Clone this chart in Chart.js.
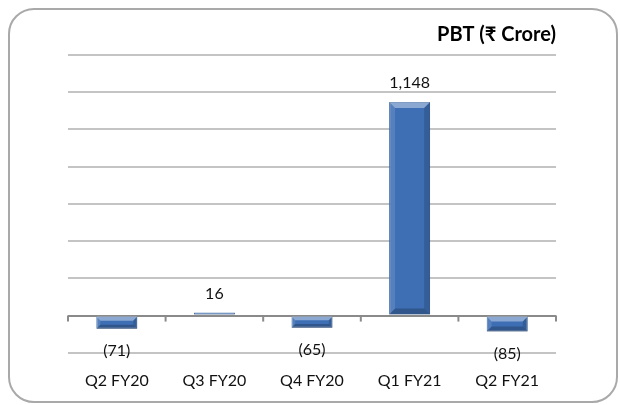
<!DOCTYPE html>
<html>
<head>
<meta charset="utf-8">
<script src="https://cdn.jsdelivr.net/npm/chart.js@4"></script>
<style>
    html, body { margin: 0; padding: 0; background: #fff; }
    #wrap { position: relative; width: 620px; height: 405px; overflow: hidden; }
    #frame {
        position: absolute; left: 8px; top: 8px; width: 610px; height: 395px;
        border: 2px solid #a9a9a9; border-radius: 26px; box-sizing: border-box;
    }
    #chart { position: absolute; left: 0; top: 0; }
</style>
</head>
<body>
<div id="wrap">
    <div id="frame"></div>
    <canvas id="chart" width="620" height="405"></canvas>
</div>
<script>
const quarters = ['Q2 FY20', 'Q3 FY20', 'Q4 FY20', 'Q1 FY21', 'Q2 FY21'];
const pbtValues = [-71, 16, -65, 1148, -85];
const chartTitle = 'PBT (\u20B9 Crore)';

const fontFamily = "Lato, 'Noto Sans', sans-serif";

function formatValue(v) {
    const s = Math.abs(v).toLocaleString('en-US');
    return v < 0 ? '(' + s + ')' : s;
}

// bevel look on each bar, like the old office 3d style
const bevelPlugin = {
    id: 'bevel',
    afterDatasetsDraw(chart) {
        const ctx = chart.ctx;
        const meta = chart.getDatasetMeta(0);
        meta.data.forEach(bar => {
            const p = bar.getProps(['x', 'y', 'base', 'width'], true);
            const left = p.x - p.width / 2;
            const right = p.x + p.width / 2;
            const top = Math.min(p.y, p.base);
            const bottom = Math.max(p.y, p.base);
            const b = Math.min(6, (bottom - top) / 3);
            ctx.save();
            ctx.fillStyle = 'rgba(255,255,255,0.4)';
            ctx.beginPath();
            ctx.moveTo(left, top); ctx.lineTo(right, top);
            ctx.lineTo(right - b, top + b); ctx.lineTo(left + b, top + b);
            ctx.closePath(); ctx.fill();
            ctx.fillStyle = 'rgba(255,255,255,0.12)';
            ctx.beginPath();
            ctx.moveTo(left, top); ctx.lineTo(left + b, top + b);
            ctx.lineTo(left + b, bottom - b); ctx.lineTo(left, bottom);
            ctx.closePath(); ctx.fill();
            ctx.fillStyle = 'rgba(0,0,0,0.15)';
            ctx.beginPath();
            ctx.moveTo(right, top); ctx.lineTo(right - b, top + b);
            ctx.lineTo(right - b, bottom - b); ctx.lineTo(right, bottom);
            ctx.closePath(); ctx.fill();
            ctx.fillStyle = 'rgba(0,0,0,0.22)';
            ctx.beginPath();
            ctx.moveTo(left, bottom); ctx.lineTo(left + b, bottom - b);
            ctx.lineTo(right - b, bottom - b); ctx.lineTo(right, bottom);
            ctx.closePath(); ctx.fill();
            ctx.restore();
        });
    }
};

// zero line tick marks + value labels
const axisAndLabels = {
    id: 'axisAndLabels',
    afterDraw(chart) {
        const ctx = chart.ctx;
        const xs = chart.scales.x;
        const ys = chart.scales.y;
        const zero = ys.getPixelForValue(0);
        ctx.save();
        ctx.strokeStyle = '#8a8a8a';
        ctx.lineWidth = 2;
        const n = quarters.length;
        for (let i = 0; i <= n; i++) {
            let px;
            if (i === 0) px = xs.left;
            else if (i === n) px = xs.right;
            else px = (xs.getPixelForValue(i - 1) + xs.getPixelForValue(i)) / 2;
            ctx.beginPath();
            ctx.moveTo(px, zero);
            ctx.lineTo(px, zero + 6);
            ctx.stroke();
        }

        ctx.fillStyle = '#111';
        ctx.font = '16px ' + fontFamily;
        ctx.textAlign = 'center';
        ctx.textBaseline = 'middle';
        chart.getDatasetMeta(0).data.forEach((bar, i) => {
            const v = pbtValues[i];
            const y = v < 0 ? bar.y + 22 : bar.y - 19;
            ctx.fillText(formatValue(v), bar.x, y);
        });
        ctx.restore();
    }
};

new Chart(document.getElementById('chart'), {
    type: 'bar',
    data: {
        labels: quarters,
        datasets: [{
            data: pbtValues,
            backgroundColor: '#3e6fb4',
            borderColor: '#2e5a98',
            borderWidth: 1,
            barPercentage: 0.42,
            categoryPercentage: 1
        }]
    },
    options: {
        responsive: false,
        animation: false,
        layout: { padding: { left: 68, right: 64, top: 10, bottom: -3 } },
        plugins: {
            legend: { display: false },
            tooltip: { enabled: false },
            title: {
                display: true,
                text: chartTitle,
                align: 'end',
                color: '#000',
                font: { family: fontFamily, size: 20, weight: 'bold' },
                padding: { top: 13, bottom: 8 }
            }
        },
        scales: {
            x: {
                border: { display: false },
                grid: { display: false, drawTicks: false },
                ticks: {
                    color: '#111',
                    padding: 18,
                    font: { family: fontFamily, size: 16 }
                }
            },
            y: {
                min: -200,
                max: 1400,
                border: { display: false },
                ticks: { display: false, stepSize: 200 },
                grid: {
                    drawTicks: false,
                    lineWidth: 2,
                    color: c => c.tick && c.tick.value === 0 ? '#8a8a8a' : '#c4c4c4'
                }
            }
        }
    },
    plugins: [bevelPlugin, axisAndLabels]
});
</script>
</body>
</html>
